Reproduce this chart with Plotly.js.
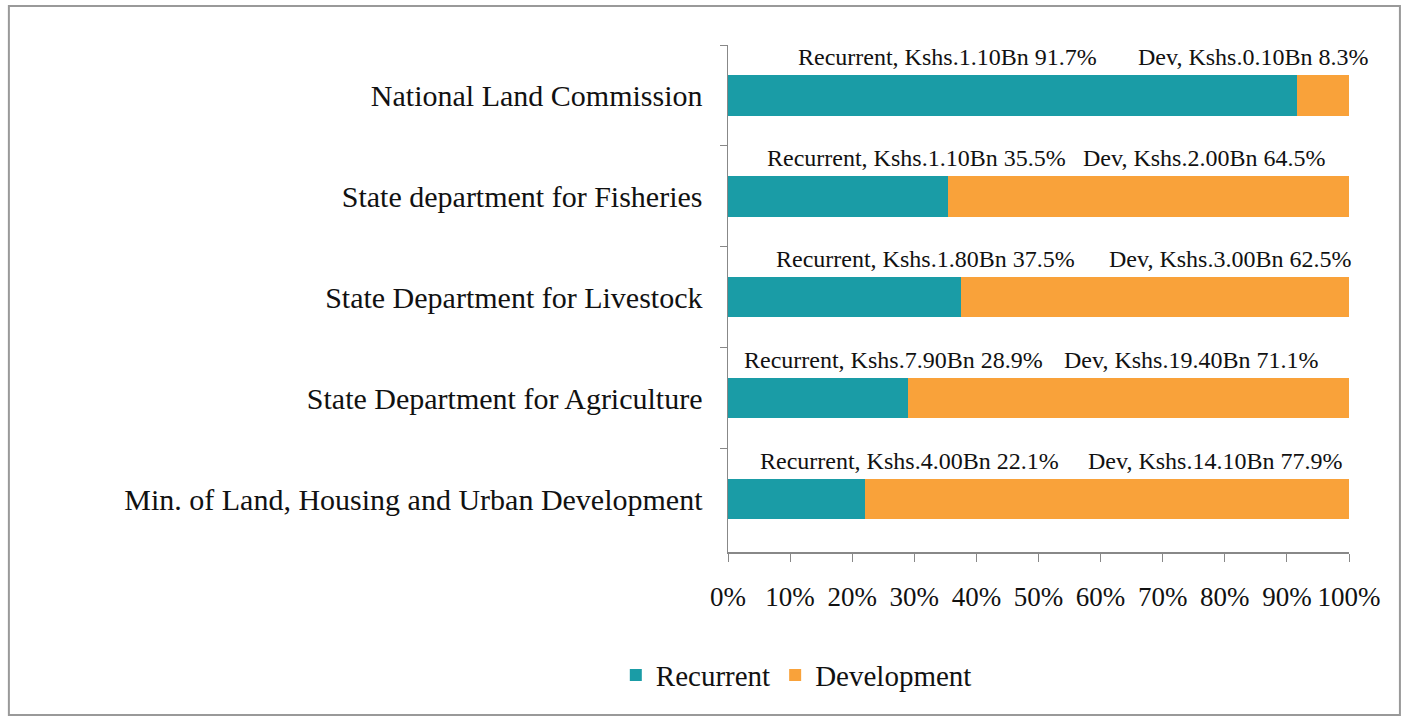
<!DOCTYPE html>
<html>
<head>
<meta charset="utf-8">
<script src="https://cdn.plot.ly/plotly-3.0.1.min.js"></script>
<style>
  body { margin: 0; background: #fff; }
  #chart { width: 1403px; height: 721px; }
</style>
</head>
<body>
<div id="chart"></div>
<script>
// Categories, top to bottom
const categories = [
    'National Land Commission',
    'State department for Fisheries',
    'State Department for Livestock',
    'State Department for Agriculture',
    'Min. of Land, Housing and Urban Development'
];

// Amounts in Kshs Bn
const recurrent = [1.10, 1.10, 1.80, 7.90, 4.00];
const development = [0.10, 2.00, 3.00, 19.40, 14.10];

// Shares as printed in the labels
const recurrentPct = ['91.7%', '35.5%', '37.5%', '28.9%', '22.1%'];
const developmentPct = ['8.3%', '64.5%', '62.5%', '71.1%', '77.9%'];

const xTicks = [0, 10, 20, 30, 40, 50, 60, 70, 80, 90, 100];

// where each label sits along the axis (percent)
const recLabelX = [35.3, 30.3, 31.8, 26.6, 29.3];
const devLabelX = [84.5, 76.6, 80.9, 74.5, 78.4];

const TEAL = '#1a9ca6';
const ORANGE = '#f9a23a';
const FONT = 'Liberation Serif';

const data = [
    {
        y: categories,
        x: recurrent,
        name: 'Recurrent',
        type: 'bar',
        orientation: 'h',
        marker: { color: TEAL },
        hoverinfo: 'skip'
    },
    {
        y: categories,
        x: development,
        name: 'Development',
        type: 'bar',
        orientation: 'h',
        marker: { color: ORANGE },
        hoverinfo: 'skip'
    }
];

const annotations = [];
categories.forEach((cat, i) => {
    annotations.push({
        x: recLabelX[i], y: cat, xref: 'x', yref: 'y',
        text: `Recurrent, Kshs.${recurrent[i].toFixed(2)}Bn ${recurrentPct[i]}`,
        showarrow: false, yshift: 38,
        font: { family: FONT, size: 24, color: '#111' }
    });
    annotations.push({
        x: devLabelX[i], y: cat, xref: 'x', yref: 'y',
        text: `Dev, Kshs.${development[i].toFixed(2)}Bn ${developmentPct[i]}`,
        showarrow: false, yshift: 38,
        font: { family: FONT, size: 24, color: '#111' }
    });
});

const layout = {
    width: 1403,
    height: 721,
    barmode: 'stack',
    barnorm: 'percent',
    bargap: 0.6,
    paper_bgcolor: '#fff',
    plot_bgcolor: '#fff',
    font: { family: FONT, color: '#111' },
    margin: { l: 728, r: 54, t: 45, b: 169 },
    showlegend: true,
    legend: {
        orientation: 'h',
        traceorder: 'normal',
        x: 0.11, xanchor: 'center',
        y: -0.243, yanchor: 'middle',
        font: { family: FONT, size: 29, color: '#111' },
        itemwidth: 30
    },
    xaxis: {
        range: [0, 100],
        tickvals: xTicks,
        ticktext: xTicks.map(v => v + '%'),
        ticks: 'outside',
        ticklen: 8,
        tickcolor: '#888',
        showline: true,
        linecolor: '#888',
        linewidth: 1.5,
        showgrid: false,
        zeroline: false,
        ticklabelstandoff: 12,
        tickfont: { family: FONT, size: 27, color: '#111' }
    },
    yaxis: {
        autorange: 'reversed',
        tickson: 'boundaries',
        ticks: 'outside',
        ticklen: 7,
        tickcolor: '#888',
        showline: true,
        linecolor: '#888',
        linewidth: 1.5,
        showgrid: false,
        ticklabelstandoff: 18,
        tickfont: { family: FONT, size: 30, color: '#111' }
    },
    annotations,
    shapes: [{
        type: 'rect', xref: 'paper', yref: 'paper',
        x0: -1.158, x1: 1.082, y0: -0.3215, y1: 1.077,
        line: { color: '#999', width: 2 }
    }]
};

Plotly.newPlot('chart', data, layout, { displayModeBar: false, staticPlot: true });
</script>
</body>
</html>
